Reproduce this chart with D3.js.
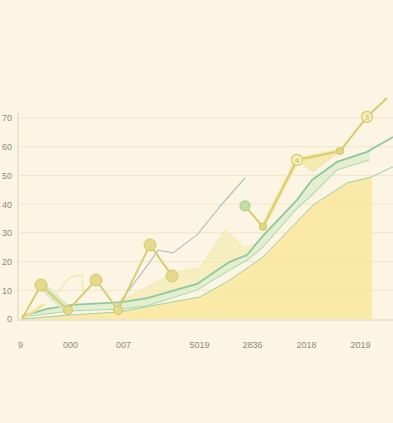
<!DOCTYPE html>
<html>
<head>
<meta charset="utf-8">
<script src="https://cdn.jsdelivr.net/npm/d3@7"></script>
<style>
  body { margin: 0; background: #fcf5e4; }
  svg { display: block; }
</style>
</head>
<body>
<div id="draw"></div>
<script>
// tick labels (as printed in the picture) and where they sit on the x index
var xLabels = ["9", "000", "007", "5019", "2836", "2018", "2019"];
var xLabelPos = [-0.08, 1.92, 4.04, 7.08, 9.2, 11.36, 13.52];
var yTicks = [0, 10, 20, 30, 40, 50, 60, 70];

// main yellow area
var areaX = [0, 1.92, 3.84, 7.12, 8.32, 9.64, 11.64, 13, 14];
var areaY = [0, 1.4, 2.4, 7.7, 13.6, 21.6, 39.7, 47.4, 49.5];
var areaLineX = [0, 1.92, 3.84, 7.12, 8.32, 9.64, 11.64, 13, 14, 14.84];
var areaLineY = [0, 1.4, 2.4, 7.7, 13.6, 21.6, 39.7, 47.4, 49.5, 53];

// green band
var bandX = [0, 1, 2, 4, 5, 7, 8.3, 9, 9.6, 11, 11.6, 12.6, 13.9];
var bandLow = [0.7, 1.8, 2.8, 3.5, 4.6, 10.1, 17.1, 20.5, 24.7, 38.5, 43.2, 51.9, 55.4];
var bandHigh = [1.0, 3.5, 4.9, 5.9, 7.3, 12.2, 19.9, 22.3, 28.6, 41.5, 48.4, 54.7, 58.6];
var topLineX = [0, 1, 2, 4, 5, 7, 8.3, 9, 9.6, 11, 11.6, 12.6, 13.8, 14.84];
var topLineY = [1.0, 3.5, 4.9, 5.9, 7.3, 12.2, 19.9, 22.3, 28.6, 41.5, 48.4, 54.7, 58.2, 63.4];

// faint yellow ghost areas
var ghostX = [4, 5.12, 6.12, 7.12, 8.12, 8.92, 9.64];
var ghostTop = [6.6, 11.8, 16.4, 17.8, 31.0, 24.7, 27.5];
var ghostBottom = [5.9, 6.8, 9.0, 12.2, 18.5, 22.3, 28.6];
var wedgeX = [11, 11.64, 12.72];
var wedgeTop = [55.4, 56.9, 58.5];
var wedgeBottom = [55.4, 51.3, 58.5];

// gray line
var grayX = [3.84, 5.12, 5.44, 6.04, 7.0, 8.04, 8.92];
var grayY = [4.9, 19.9, 24.0, 23.0, 29.3, 40.4, 49.1];

// faint left lines
var faintX = [1.12, 1.92, 2.4, 2.44];
var faintY = [5.9, 14.6, 15.3, 9.4];
var stubX = [0, 0.9];
var stubY = [0, 5.2];

// zigzag with markers
var zigX1 = [0, 0.76, 1.84, 2.96, 3.84, 5.12, 6.0];
var zigY1 = [0, 11.8, 3.1, 13.6, 3.1, 25.8, 15.0];
var zigX2 = [8.92, 9.64, 11, 12.72, 13.8, 14.6];
var zigY2 = [39.4, 32.1, 55.4, 58.5, 70.4, 77.0];
var zigTags = ["", "", "4", "", "3", ""];

var width = 393, height = 423;

var x = d3.scaleLinear().domain([0, 14]).range([22, 372]);
var y = d3.scaleLinear().domain([0, 70]).range([319, 118]);

var svg = d3.select("#draw").append("svg")
	.attr("width", width)
	.attr("height", height);

svg.append("rect")
	.attr("width", width).attr("height", height)
	.attr("fill", "#fcf5e4");

// gridlines
svg.append("g")
	.selectAll("line")
	.data(yTicks.slice(1))
	.enter()
	.append("line")
	.attr("x1", 18).attr("x2", width)
	.attr("y1", function(d){ return y(d); })
	.attr("y2", function(d){ return y(d); })
	.attr("stroke", "#f0e6cb")
	.attr("stroke-width", 1);

// y axis
var yAxis = svg.append("g")
	.attr("transform", "translate(18,0)")
	.call(d3.axisLeft(y).tickValues(yTicks).tickSize(0).tickPadding(6));
yAxis.select(".domain").attr("stroke", "#ddd3b5").attr("d", "M0," + (y(0) + 1) + "V113");
yAxis.selectAll("text")
	.attr("fill", "#8f8a7c")
	.style("font-family", "Liberation Sans")
	.style("font-size", "9px");

// x axis
var xAxis = svg.append("g")
	.attr("transform", "translate(0," + (y(0) + 1) + ")")
	.call(d3.axisBottom(x).tickValues(xLabelPos).tickSize(0).tickPadding(22)
		.tickFormat(function(d, i){ return xLabels[i]; }));
xAxis.select(".domain").attr("stroke", "#ddd3b5").attr("d", "M18,0H" + width);
xAxis.selectAll("text")
	.attr("fill", "#8f8a7c")
	.style("font-family", "Liberation Sans")
	.style("font-size", "9px");

function pts(xs, ys){ return xs.map(function(v, i){ return [v, ys[i]]; }); }

var line = d3.line()
	.x(function(d){ return x(d[0]); })
	.y(function(d){ return y(d[1]); });

var band2 = d3.area()
	.x(function(d){ return x(d[0]); })
	.y0(function(d){ return y(d[2]); })
	.y1(function(d){ return y(d[1]); });

// main yellow area
svg.append("path")
	.datum(pts(areaX, areaY))
	.attr("d", d3.area()
		.x(function(d){ return x(d[0]); })
		.y0(y(0))
		.y1(function(d){ return y(d[1]); }))
	.attr("fill", "#fae8a0")
	.attr("opacity", 0.9);

// ghost areas
svg.append("path")
	.datum(ghostX.map(function(v, i){ return [v, ghostTop[i], ghostBottom[i]]; }))
	.attr("d", band2)
	.attr("fill", "#f4eaa8")
	.attr("opacity", 0.6)
	.attr("stroke", "#efe39a")
	.attr("stroke-width", 1);
svg.append("path")
	.datum(wedgeX.map(function(v, i){ return [v, wedgeTop[i], wedgeBottom[i]]; }))
	.attr("d", band2)
	.attr("fill", "#f3e7a0")
	.attr("opacity", 0.75)
	.attr("stroke", "#eadd8c")
	.attr("stroke-width", 1);

// green band
svg.append("path")
	.datum(bandX.map(function(v, i){ return [v, bandHigh[i], bandLow[i]]; }))
	.attr("d", band2)
	.attr("fill", "#dcecc8")
	.attr("opacity", 0.75);
svg.append("path")
	.datum(pts(bandX, bandLow))
	.attr("d", line)
	.attr("fill", "none")
	.attr("stroke", "#b5dcb6")
	.attr("stroke-width", 1.2);

svg.append("path")
	.datum(pts(areaLineX, areaLineY))
	.attr("d", line)
	.attr("fill", "none")
	.attr("stroke", "#9fd0a8")
	.attr("stroke-width", 1);

svg.append("path")
	.datum(pts(topLineX, topLineY))
	.attr("d", line)
	.attr("fill", "none")
	.attr("stroke", "#8fc8a0")
	.attr("stroke-width", 1.8);

// gray line
svg.append("path")
	.datum(pts(grayX, grayY))
	.attr("d", line)
	.attr("fill", "none")
	.attr("stroke", "#b3c2c2")
	.attr("stroke-width", 1.2);

// faint left lines
svg.append("path")
	.datum(pts(faintX, faintY))
	.attr("d", line)
	.attr("fill", "none")
	.attr("stroke", "#f1e6b0")
	.attr("stroke-width", 1.2);
svg.append("path")
	.datum(pts(stubX, stubY))
	.attr("d", line)
	.attr("fill", "none")
	.attr("stroke", "#f5df8c")
	.attr("stroke-width", 3)
	.attr("opacity", 0.8);

// zigzag
var zig1 = pts(zigX1, zigY1), zig2 = pts(zigX2, zigY2);
svg.append("path")
	.datum(zig1.slice(1, 3))
	.attr("d", line)
	.attr("fill", "none")
	.attr("stroke", "#d6e8c4")
	.attr("stroke-width", 8)
	.attr("opacity", 0.8);
svg.append("path")
	.datum(zig2.slice(1, 4))
	.attr("d", line)
	.attr("fill", "none")
	.attr("stroke", "#f3e9ab")
	.attr("stroke-width", 5)
	.attr("opacity", 0.8);

[zig1, zig2].forEach(function(seg){
	svg.append("path")
		.datum(seg)
		.attr("d", line)
		.attr("fill", "none")
		.attr("stroke", "#d8cd6e")
		.attr("stroke-width", 2);
});

svg.selectAll(".dot1")
	.data(zig1.slice(1))
	.enter()
	.append("circle")
	.attr("cx", function(d){ return x(d[0]); })
	.attr("cy", function(d){ return y(d[1]); })
	.attr("r", function(d){ return d[1] > 10 ? 6 : 4.5; })
	.attr("fill", "#e5da8a")
	.attr("stroke", "#d2c66c")
	.attr("stroke-width", 1);

svg.selectAll(".dot2")
	.data(zig2.slice(0, 5))
	.enter()
	.append("circle")
	.attr("cx", function(d){ return x(d[0]); })
	.attr("cy", function(d){ return y(d[1]); })
	.attr("r", function(d, i){ return zigTags[i] ? 5.5 : (i == 0 ? 5 : 3.5); })
	.attr("fill", function(d, i){ return i == 0 ? "#c2dea3" : (zigTags[i] ? "#f5edb8" : "#e2d67e"); })
	.attr("stroke", function(d, i){ return i == 0 ? "#acd193" : "#d6ca6c"; })
	.attr("stroke-width", 1.2);

svg.selectAll(".tag")
	.data(zig2.slice(0, 5))
	.enter()
	.append("text")
	.attr("x", function(d){ return x(d[0]); })
	.attr("y", function(d){ return y(d[1]) + 3; })
	.attr("text-anchor", "middle")
	.attr("fill", "#c4b655")
	.style("font-family", "DejaVu Sans")
	.style("font-size", "7px")
	.text(function(d, i){ return zigTags[i]; });
</script>
</body>
</html>
